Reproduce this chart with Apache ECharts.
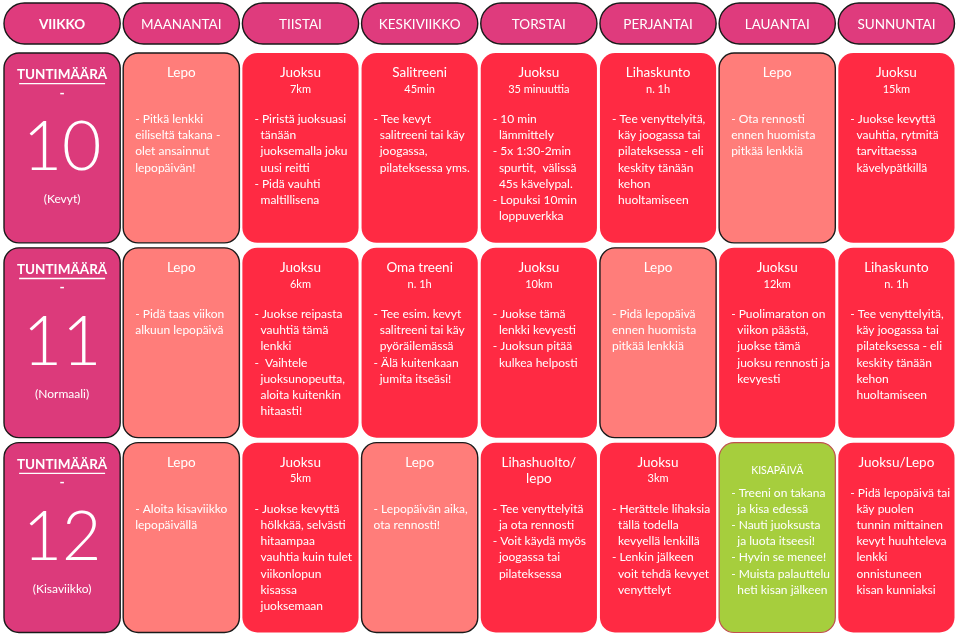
<!DOCTYPE html>
<html><head><meta charset="utf-8">
<script src="https://cdn.jsdelivr.net/npm/echarts@6/dist/echarts.min.js"></script>
<style>html,body{margin:0;padding:0;background:#fff}#c{width:959px;height:635px}</style>
</head><body><div id="c"></div>
<script>
// ---------- DATA ----------
const days = ['VIIKKO','MAANANTAI','TIISTAI','KESKIVIIKKO','TORSTAI','PERJANTAI','LAUANTAI','SUNNUNTAI'];
const weekNumbers = ['10','11','12'];
const weekNotes = ['(Kevyt)','(Normaali)','(Kisaviikko)'];
const weekLabel = 'TUNTIMÄÄRÄ';

// kind: rest / run / race ; title lines ; sub ('' = empty line, null = none) ; text lines
const week10 = [
  {kind:'rest', title:['Lepo'], sub:'', lines:['- Pitkä lenkki','eiliseltä takana -','olet ansainnut','lepopäivän!']},
  {kind:'run', title:['Juoksu'], sub:'7km', lines:['- Piristä juoksuasi','  tänään','  juoksemalla joku','  uusi reitti','- Pidä vauhti','  maltillisena']},
  {kind:'run', title:['Salitreeni'], sub:'45min', lines:['- Tee kevyt','  salitreeni tai käy','  joogassa,','  pilateksessa yms.']},
  {kind:'run', title:['Juoksu'], sub:'35 minuuttia', lines:['- 10 min','  lämmittely','- 5x 1:30-2min','  spurtit,  välissä','  45s kävelypal.','- Lopuksi 10min','  loppuverkka']},
  {kind:'run', title:['Lihaskunto'], sub:'n. 1h', lines:['- Tee venyttelyitä,','  käy joogassa tai','  pilateksessa - eli','  keskity tänään','  kehon','  huoltamiseen']},
  {kind:'rest', title:['Lepo'], sub:'', lines:['- Ota rennosti','ennen huomista','pitkää lenkkiä']},
  {kind:'run', title:['Juoksu'], sub:'15km', lines:['- Juokse kevyttä','  vauhtia, rytmitä','  tarvittaessa','  kävelypätkillä']}
];
const week11 = [
  {kind:'rest', title:['Lepo'], sub:'', lines:['- Pidä taas viikon','alkuun lepopäivä']},
  {kind:'run', title:['Juoksu'], sub:'6km', lines:['- Juokse reipasta','  vauhtiä tämä','  lenkki','-  Vaihtele','  juoksunopeutta,','  aloita kuitenkin','  hitaasti!']},
  {kind:'run', title:['Oma treeni'], sub:'n. 1h', lines:['- Tee esim. kevyt','  salitreeni tai käy','  pyöräilemässä','- Älä kuitenkaan','  jumita itseäsi!']},
  {kind:'run', title:['Juoksu'], sub:'10km', lines:['- Juokse tämä','  lenkki kevyesti','- Juoksun pitää','  kulkea helposti']},
  {kind:'rest', title:['Lepo'], sub:'', lines:['- Pidä lepopäivä','ennen huomista','pitkää lenkkiä']},
  {kind:'run', title:['Juoksu'], sub:'12km', lines:['- Puolimaraton on','  viikon päästä,','  juokse tämä','  juoksu rennosti ja','  kevyesti']},
  {kind:'run', title:['Lihaskunto'], sub:'n. 1h', lines:['- Tee venyttelyitä,','  käy joogassa tai','  pilateksessa - eli','  keskity tänään','  kehon','  huoltamiseen']}
];
const week12 = [
  {kind:'rest', title:['Lepo'], sub:'', lines:['- Aloita kisaviikko','lepopäivällä']},
  {kind:'run', title:['Juoksu'], sub:'5km', lines:['- Juokse kevyttä','  hölkkää, selvästi','  hitaampaa','  vauhtia kuin tulet','  viikonlopun','  kisassa','  juoksemaan']},
  {kind:'rest', title:['Lepo'], sub:'', lines:['- Lepopäivän aika,','ota rennosti!']},
  {kind:'run', title:['Lihashuolto/','lepo'], sub:null, lines:['- Tee venyttelyitä','  ja ota rennosti','- Voit käydä myös','  joogassa tai','  pilateksessa']},
  {kind:'run', title:['Juoksu'], sub:'3km', lines:['- Herättele lihaksia','  tällä todella','  kevyellä lenkillä','- Lenkin jälkeen','  voit tehdä kevyet','  venyttelyt']},
  {kind:'race', title:['KISAPÄIVÄ'], sub:null, lines:['- Treeni on takana','  ja kisa edessä','- Nauti juoksusta','  ja luota itseesi!','- Hyvin se menee!','- Muista palauttelu','  heti kisan jälkeen']},
  {kind:'run', title:['Juoksu/Lepo'], sub:null, lines:['- Pidä lepopäivä tai','  käy puolen','  tunnin mittainen','  kevyt huuhteleva','  lenkki','  onnistuneen','  kisan kunniaksi']}
];
const weeks = [week10, week11, week12];

// ---------- STYLE ----------
const FONT = 'Lato, "Open Sans", sans-serif';
const kindStyle = {
  week: {fill:'#DC3A7B', stroke:'#1a1a1a', lw:1.4},
  rest: {fill:'#FF7D7A', stroke:'#1a1a1a', lw:1.4},
  run:  {fill:'#FF2A43', stroke:null, lw:0},
  race: {fill:'#A6CE3D', stroke:'#C0504D', lw:1.2}
};
const LH = 16.2;

// ---------- BUILD ----------
const headerData = days.map((d,i)=>[i,0]);
const bodyData = [];
weeks.forEach((w,wi)=>{
  bodyData.push({value:[0,wi], cell:{kind:'week', wi:wi}});
  w.forEach((c,di)=>bodyData.push({value:[di+1,wi], cell:c}));
});

function renderHeader(params, api){
  const c = api.coord([api.value(0), api.value(1)]);
  const s = api.size([1,1]);
  const w = s[0]-3, h = s[1];
  const x0 = c[0]-w/2, y0 = c[1]-h/2;
  const i = api.value(0);
  return {type:'group', children:[
    {type:'rect', shape:{x:x0,y:y0,width:w,height:h,r:h/2},
     style:{fill:'#DF3B7D', stroke:'#1a1a1a', lineWidth:1.4}},
    {type:'text', style:{x:c[0], y:c[1]+1, text:days[i], fill:'#fff', align:'center', verticalAlign:'middle',
      font:(i===0?'bold ':'')+'13.5px '+FONT}}
  ]};
}

function renderBody(params, api){
  const item = bodyData[params.dataIndex];
  const cell = item.cell;
  const c = api.coord([api.value(0), api.value(1)]);
  const s = api.size([1,1]);
  const w = s[0]-3, h = s[1]-5;
  const x0 = c[0]-w/2, y0 = c[1]-h/2;
  const st = kindStyle[cell.kind];
  const children = [
    {type:'rect', shape:{x:x0,y:y0,width:w,height:h,r:15},
     style:{fill:st.fill, stroke:st.stroke, lineWidth:st.lw}}
  ];
  if(cell.kind==='week'){
    children.push({type:'text', style:{x:c[0], y:y0+22, text:weekLabel, fill:'#fff', align:'center', verticalAlign:'middle', font:'bold 13.5px '+FONT}});
    children.push({type:'rect', shape:{x:c[0]-43, y:y0+30, width:86, height:1.3}, style:{fill:'#fff'}});
    children.push({type:'text', style:{x:c[0], y:y0+40, text:'-', fill:'#fff', align:'center', verticalAlign:'middle', font:'bold 14px '+FONT}});
    children.push({type:'text', style:{x:c[0], y:y0+95, text:weekNumbers[cell.wi], fill:'#fff', align:'center', verticalAlign:'middle', font:'300 68px '+FONT}});
    children.push({type:'text', style:{x:c[0], y:y0+146, text:weekNotes[cell.wi], fill:'#fff', align:'center', verticalAlign:'middle', font:'12px '+FONT}});
    return {type:'group', children};
  }
  let y;
  if(cell.kind==='race'){
    children.push({type:'text', style:{x:c[0], y:y0+28, text:cell.title[0], fill:'#fff', align:'center', verticalAlign:'middle', font:'10.5px '+FONT}});
    y = y0+50;
  } else {
    y = y0+20;
    cell.title.forEach((t,k)=>{
      if(k>0) y += LH;
      children.push({type:'text', style:{x:c[0], y:y, text:t, fill:'#fff', align:'center', verticalAlign:'middle', font:'13.5px '+FONT}});
    });
    if(cell.sub!==null){
      y += LH;
      children.push({type:'text', style:{x:c[0], y:y, text:cell.sub, fill:'#fff', align:'center', verticalAlign:'middle', font:'11px '+FONT}});
    }
    y += 30;
  }
  children.push({type:'text', style:{x:x0+12, y:y-LH/2, text:cell.lines.join('\n'), fill:'#fff', align:'left', verticalAlign:'top', lineHeight:LH, font:'12px '+FONT}});
  return {type:'group', children};
}

const chart = echarts.init(document.getElementById('c'));
chart.setOption({
  animation:false,
  grid:[
    {left:2.5, width:953.5, top:3, height:41},
    {left:2.5, width:953.5, top:50.5, height:585}
  ],
  xAxis:[
    {gridIndex:0, type:'category', data:days, show:false},
    {gridIndex:1, type:'category', data:days, show:false}
  ],
  yAxis:[
    {gridIndex:0, type:'category', data:['header'], show:false, inverse:true},
    {gridIndex:1, type:'category', data:weekNumbers, show:false, inverse:true}
  ],
  series:[
    {type:'custom', xAxisIndex:0, yAxisIndex:0, data:headerData, renderItem:renderHeader, encode:{x:0,y:1}},
    {type:'custom', xAxisIndex:1, yAxisIndex:1, data:bodyData.map(d=>d.value), renderItem:renderBody, encode:{x:0,y:1}, clip:false}
  ]
});
</script></body></html>
